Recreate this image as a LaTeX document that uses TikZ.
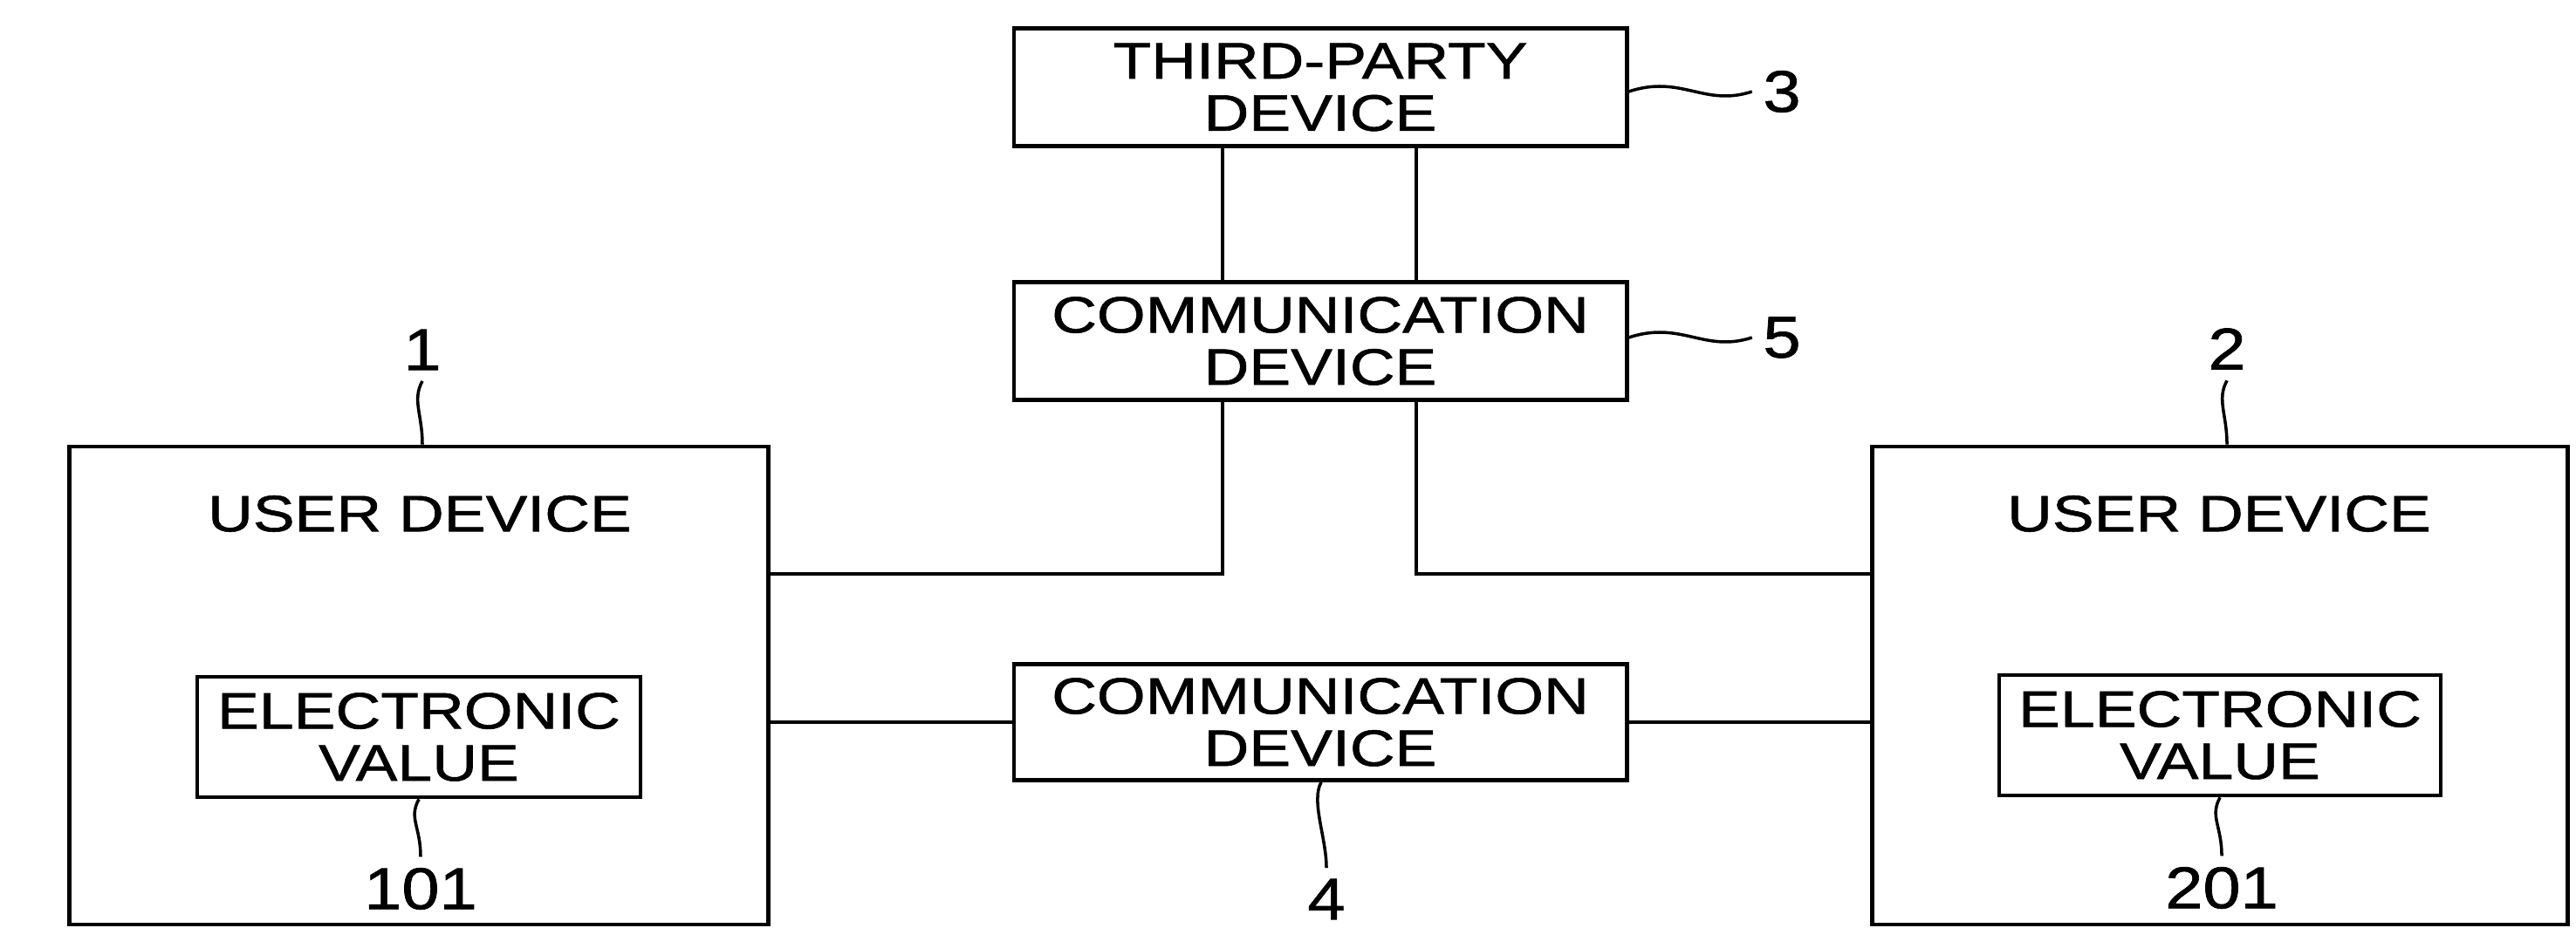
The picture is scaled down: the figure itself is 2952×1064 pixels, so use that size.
\documentclass[tikz,border=0pt]{standalone}
\usepackage{fontspec}
\setmainfont{Liberation Sans}[FakeStretch=1.22,FakeBold=1]
\newfontfamily\numfont{Liberation Sans}[FakeStretch=1.15,FakeBold=1]
\tikzset{
	box/.style={draw, line width=1.3pt, inner sep=0pt, align=center,
		font=\fontsize{16.7}{17}\selectfont},
	caption/.style={inner sep=0pt, font=\fontsize{16.7}{17}\selectfont},
	ref/.style={inner sep=1.2mm, font=\numfont\fontsize{19.2}{20}\selectfont},
	lead/.style={line width=1pt},
	link/.style={line width=1.3pt},
}
\begin{document}
\begin{tikzpicture}[x=0.01cm,y=-0.01cm]
		\useasboundingbox (0,0) rectangle (2952,1064);
		% devices
		\node[box, minimum width=7.02cm, minimum height=1.35cm] (third) at (1513,100) {THIRD-PARTY\\DEVICE};
		\node[box, minimum width=7.02cm, minimum height=1.35cm] (comm5) at (1513,391) {COMMUNICATION\\DEVICE};
		\node[box, minimum width=7.02cm, minimum height=1.33cm] (comm4) at (1513,828) {COMMUNICATION\\DEVICE};
		\node[box, minimum width=8.0cm, minimum height=5.48cm] (user1) at (480,786) {};
		\node[box, minimum width=7.97cm, minimum height=5.48cm] (user2) at (2544,786) {};
		\node[caption] at (481,589) {USER DEVICE};
		\node[caption] at (2543,589) {USER DEVICE};
		\node[box, minimum width=5.08cm, minimum height=1.38cm] (value1) at (480,845) {ELECTRONIC\\VALUE};
		\node[box, minimum width=5.06cm, minimum height=1.38cm] (value2) at (2544,843) {ELECTRONIC\\VALUE};
		% links
		\draw[link] ([xshift=-1.12cm]third.south) -- ([xshift=-1.12cm]comm5.north);
		\draw[link] ([xshift=1.1cm]third.south) -- ([xshift=1.1cm]comm5.north);
		\draw[link] ([xshift=-1.12cm]comm5.south) |- ([yshift=1.28cm]user1.east);
		\draw[link] ([xshift=1.1cm]comm5.south) |- ([yshift=1.28cm]user2.west);
		\draw[link] (user1.east |- comm4.west) -- (comm4.west);
		\draw[link] (comm4.east) -- (user2.west |- comm4.east);
		% reference numerals
		\node[ref] (n1) at (484,401) {1};
		\node[ref] (n2) at (2552,400) {2};
		\node[ref] (n3) at (2042,105) {3};
		\node[ref] (n5) at (2042,387) {5};
		\node[ref] (n4) at (1520,1031) {4};
		\node[ref] (n101) at (482,1019) {101};
		\node[ref] (n201) at (2546,1018) {201};
		\draw[lead] (n1.south) .. controls +(-12,22) and +(0,-35) .. (n1.south |- user1.north);
		\draw[lead] (n2.south) .. controls +(-12,22) and +(0,-35) .. (n2.south |- user2.north);
		\draw[lead] (value1.south) .. controls +(-12,22) and +(0,-35) .. (n101.north);
		\draw[lead] (value2.south) .. controls +(-12,22) and +(0,-35) .. (n201.north);
		\draw[lead] ([xshift=0.01cm]comm4.south) .. controls +(-12,22) and +(0,-35) .. (n4.north);
		\draw[lead] (third.east |- n3.west) .. controls +(60,-20) and +(-55,18) .. (n3.west);
		\draw[lead] (comm5.east |- n5.west) .. controls +(60,-20) and +(-55,18) .. (n5.west);
	\end{tikzpicture}
\end{document}
